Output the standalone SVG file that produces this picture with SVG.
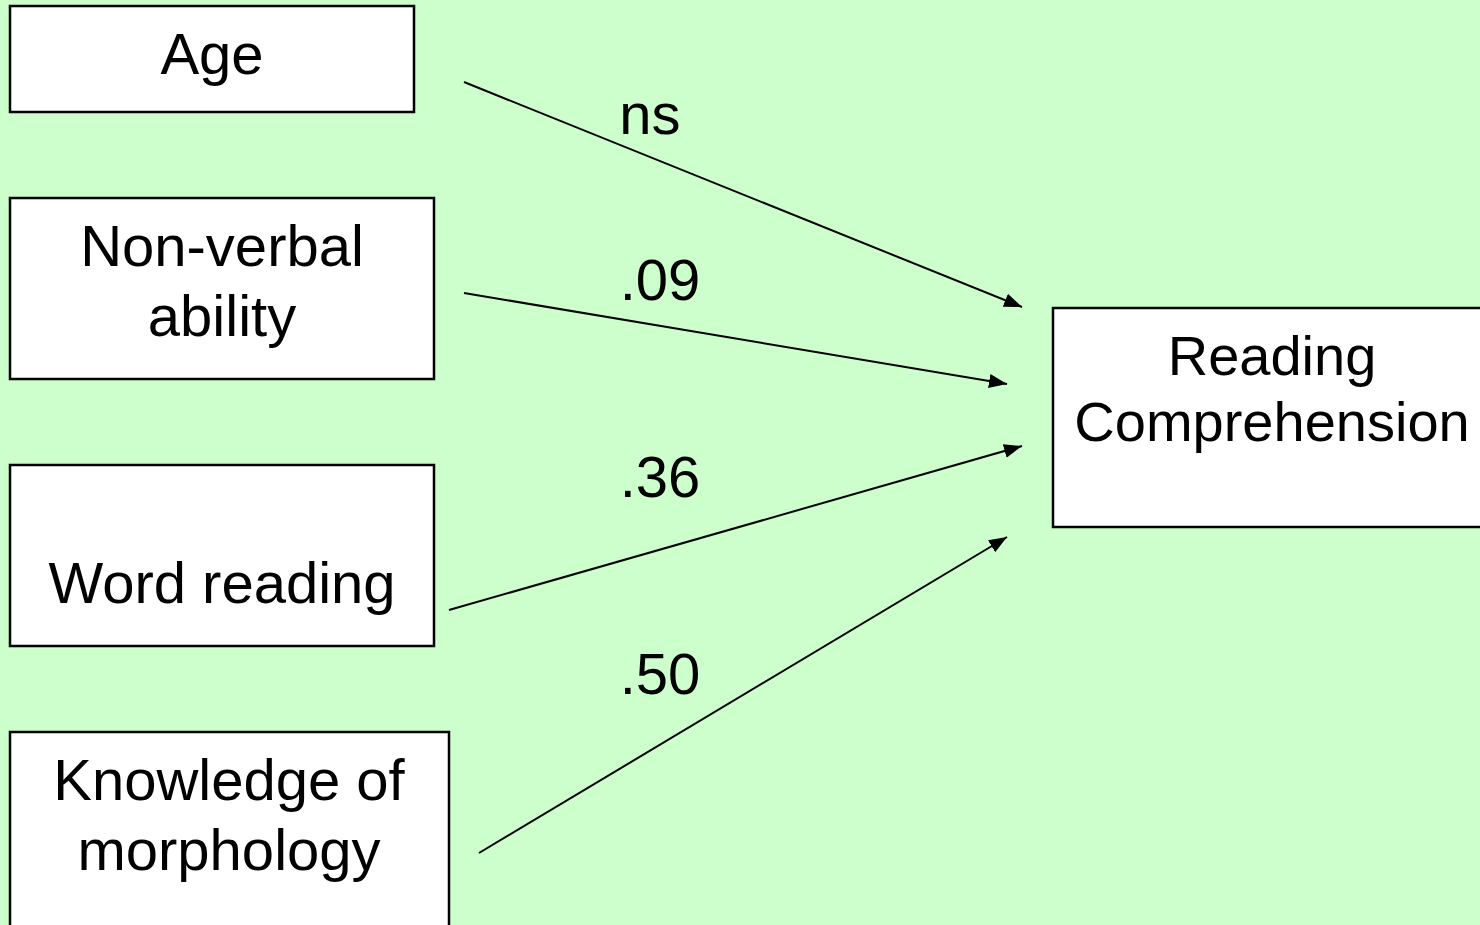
<svg xmlns="http://www.w3.org/2000/svg" width="1480" height="925" viewBox="0 0 1480 925">
<style>
.box{fill:#fff;stroke:#000;stroke-width:2.5}
.t{font-family:"Liberation Sans",Arial,sans-serif;font-size:58px;fill:#000;text-anchor:middle}
.s{font-size:56px}
.c{stroke:#000;stroke-width:2;fill:none;marker-end:url(#ah)}
</style>
<defs>
<marker id="ah" markerUnits="userSpaceOnUse" markerWidth="20" markerHeight="16" refX="18" refY="7" orient="auto">
<path d="M0,0 L18,7 L0,14 Z" fill="#000"/>
</marker>
</defs>
<rect width="1480" height="925" fill="#CCFFCC"/>
<g id="age"><rect class="box" x="10" y="6" width="404" height="106"/><text class="t" x="212" y="74">Age</text></g>
<g id="nonverbal"><rect class="box" x="10" y="198" width="424" height="181"/><text class="t" x="222" y="266">Non-verbal</text><text class="t" x="222" y="336">ability</text></g>
<g id="wordreading"><rect class="box" x="10" y="465" width="424" height="181"/><text class="t" x="222" y="603">Word reading</text></g>
<g id="morphology"><rect class="box" x="10" y="732" width="439" height="200"/><text class="t" x="229" y="800">Knowledge of</text><text class="t" x="229" y="870">morphology</text></g>
<g id="readingcomp"><rect class="box" x="1053" y="308" width="440" height="219"/><text class="t s" x="1272" y="375">Reading</text><text class="t s" x="1272" y="441">Comprehension</text></g>
<g id="connectors">
<line class="c" x1="464" y1="82" x2="1022" y2="307"/>
<line class="c" x1="464" y1="293" x2="1007" y2="384"/>
<line class="c" x1="449" y1="610" x2="1022" y2="446"/>
<line class="c" x1="479" y1="853" x2="1007" y2="537"/>
<text class="t" x="650" y="134">ns</text>
<text class="t" x="660" y="300">.09</text>
<text class="t" x="660" y="497">.36</text>
<text class="t" x="660" y="694">.50</text>
</g>
</svg>
